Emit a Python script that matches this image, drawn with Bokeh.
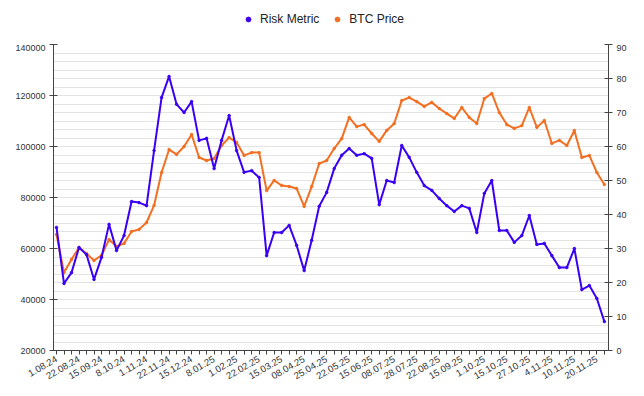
from bokeh.plotting import figure
from bokeh.layouts import column
from bokeh.models import (Range1d, LinearAxis, FixedTicker, SingleIntervalTicker,
                          NumeralTickFormatter, Legend, LegendItem)
from bokeh.embed import file_html
from bokeh.resources import INLINE
import math

tick_labels = ["1.08.24", "22.08.24", "15.09.24", "8.10.24", "1.11.24", "22.11.24",
               "15.12.24", "8.01.25", "1.02.25", "22.02.25", "15.03.25", "08.04.25",
               "25.04.25", "22.05.25", "15.06.25", "08.07.25", "28.07.25", "22.08.25",
               "15.09.25", "1.10.25", "15.10.25", "27.10.25", "4.11.25", "10.11.25",
               "20.11.25"]

btc_price = [65500, 50600, 55700, 60400, 58000, 55300, 57300, 63500, 60800, 62000,
             66700, 67500, 70200, 76900, 89800, 98800, 96900, 100000, 104700, 95700,
             94500, 95300, 100400, 103500, 101600, 96500, 97600, 97600, 82700, 86700,
             84700, 84300, 83500, 76500, 84300, 93300, 94500, 99200, 103100, 111400,
             107800, 108600, 105100, 102000, 106300, 109000, 118000, 119200, 117600, 115700,
             117300, 114900, 112900, 111000, 115300, 111400, 109000, 118800, 120800, 113300,
             108600, 107100, 108200, 115300, 107500, 110200, 101200, 102400, 100400, 106300,
             95700, 96500, 89800, 85100]

risk_metric = [36.2, 19.7, 22.9, 30.3, 28.2, 20.9, 27.4, 37.1, 29.4, 33.8,
               43.8, 43.5, 42.6, 58.8, 74.4, 80.6, 72.4, 70.0, 73.2, 61.8,
               62.4, 53.5, 61.8, 69.1, 58.8, 52.4, 52.9, 50.9, 27.9, 34.7,
               34.7, 36.8, 30.9, 23.5, 32.4, 42.4, 46.5, 53.5, 57.4, 59.4,
               57.4, 57.9, 56.5, 42.9, 50.0, 49.4, 60.3, 56.8, 52.4, 48.5,
               47.1, 44.7, 42.6, 40.9, 42.6, 41.8, 34.7, 46.2, 50.0, 35.3,
               35.3, 31.8, 33.8, 39.7, 31.2, 31.5, 27.9, 24.4, 24.4, 30.0,
               17.9, 19.1, 15.3, 8.5]

n = len(btc_price)
xs = list(range(n))
label_every = 3

BLUE = "#3a00f5"
ORANGE = "#f36f21"
FONT = "Liberation Sans"
TXT = "#333333"

p = figure(width=636, height=344, output_backend="svg", toolbar_location=None,
           x_range=Range1d(-0.4, n - 1 + 0.55), y_range=Range1d(20000, 140000),
           min_border_left=53, min_border_right=28, min_border_top=0, min_border_bottom=38)
p.outline_line_color = None
p.extra_y_ranges = {"risk": Range1d(0, 90)}

# left axis
lt = SingleIntervalTicker(interval=20000, num_minor_ticks=6)
p.yaxis.ticker = lt
p.ygrid.ticker = lt
p.yaxis.formatter = NumeralTickFormatter(format="0")
p.ygrid.grid_line_color = "#e3e3e3"
p.ygrid.minor_grid_line_color = "#e3e3e3"
p.xgrid.grid_line_color = None

# x axis
p.xaxis.ticker = FixedTicker(ticks=xs)
overrides = {}
for i in xs:
    if i % label_every == 0 and i // label_every < len(tick_labels):
        overrides[i] = tick_labels[i // label_every]
    else:
        overrides[i] = ""
p.xaxis.major_label_overrides = overrides
p.xaxis.major_label_orientation = math.pi / 6

# right axis
ra = LinearAxis(y_range_name="risk", ticker=SingleIntervalTicker(interval=10))
p.add_layout(ra, "right")

for ax in [p.yaxis[0], ra]:
    ax.major_tick_in = 4
    ax.major_tick_out = 4
    ax.major_label_standoff = 4
for ax in [p.xaxis[0], p.yaxis[0], ra]:
    ax.minor_tick_line_color = None
    ax.axis_line_color = "#444444"
    ax.major_tick_line_color = "#444444"
    ax.major_label_text_font = FONT
    ax.major_label_text_font_size = "9px"
    ax.major_label_text_color = TXT
p.xaxis.major_label_text_font_size = "9.5px"
p.xaxis.major_tick_in = 0
p.xaxis.major_tick_out = 4
p.xaxis.major_label_standoff = 4

# series
p.line(xs, btc_price, line_color=ORANGE, line_width=2)
p.scatter(xs, btc_price, size=2.5, color=ORANGE)
p.line(xs, risk_metric, line_color=BLUE, line_width=2, y_range_name="risk")
p.scatter(xs, risk_metric, size=2.5, color=BLUE, y_range_name="risk")

# legend strip above the chart (legend-only renderers hold no visible data)
nan = float("nan")
lg = figure(width=636, height=44, output_backend="svg", toolbar_location=None,
            x_axis_type=None, y_axis_type=None, x_range=Range1d(0, 1), y_range=Range1d(0, 1),
            min_border_left=53, min_border_right=28, min_border_top=0, min_border_bottom=0)
lg.outline_line_color = None
lg.grid.grid_line_color = None
lr = lg.scatter(x=[nan], y=[nan], size=10, color=BLUE)
lb = lg.scatter(x=[nan], y=[nan], size=10, color=ORANGE)
legend = Legend(items=[LegendItem(label="Risk Metric", renderers=[lr]),
                       LegendItem(label="BTC Price", renderers=[lb])],
                orientation="horizontal", location=(189, 17),
                border_line_color=None, background_fill_alpha=0,
                label_text_font=FONT, label_text_font_size="12px", label_text_color="#222222",
                glyph_width=12, glyph_height=16, label_standoff=6, spacing=12,
                padding=0, margin=0)
lg.add_layout(legend, "center")

open("out.html", "w").write(file_html(column(lg, p, spacing=0), INLINE))
